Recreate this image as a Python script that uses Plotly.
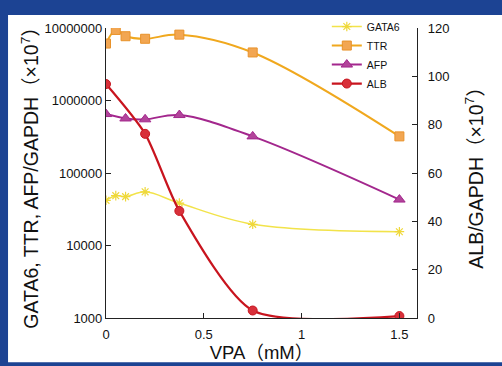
import plotly.graph_objects as go

# Data
gata6_x = [0, 0.05, 0.1, 0.2, 0.375, 0.75, 1.5]
gata6_y = [42000, 48700, 47200, 55000, 38500, 19600, 15500]

ttr_x = [0, 0.05, 0.1, 0.2, 0.375, 0.75, 1.5]
ttr_y = [6.1e6, 9.4e6, 7.7e6, 7.1e6, 8.1e6, 4.6e6, 3.2e5]

afp_x = [0, 0.1, 0.2, 0.375, 0.75, 1.5]
afp_y = [6.5e5, 5.65e5, 5.5e5, 6.3e5, 3.2e5, 4.3e4]

alb_x = [0, 0.2, 0.375, 0.75, 1.5]
alb_y = [96.8, 76.2, 44.3, 3.1, 0.8]

left_tickvals = [1000, 10000, 100000, 1000000, 10000000]
left_ticktext = ["1000", "10000", "100000", "1000000", "10000000"]
right_tickvals = [0, 20, 40, 60, 80, 100, 120]
x_tickvals = [0, 0.5, 1, 1.5]
x_ticktext = ["0", "0.5", "1", "1.5"]

FONT = "Liberation Sans, Arial, Noto Sans CJK JP, sans-serif"

fig = go.Figure()
fig.add_trace(go.Scatter(
    x=gata6_x, y=gata6_y, name="GATA6", mode="lines+markers",
    line=dict(color="#f2e34a", width=1.5, shape="spline"),
    marker=dict(symbol="asterisk-open", size=8, color="#efd83a", line=dict(width=1.2, color="#efd83a")),
))
fig.add_trace(go.Scatter(
    x=ttr_x, y=ttr_y, name="TTR", mode="lines+markers",
    line=dict(color="#f0a81e", width=2, shape="spline"),
    marker=dict(symbol="square", size=9, color="#f2a652", line=dict(width=1, color="#e8922a")),
))
fig.add_trace(go.Scatter(
    x=afp_x, y=afp_y, name="AFP", mode="lines+markers",
    line=dict(color="#a3278d", width=2, shape="spline"),
    marker=dict(symbol="triangle-up", size=10, color="#b2449a", line=dict(width=1, color="#a3278d")),
))
fig.add_trace(go.Scatter(
    x=alb_x, y=alb_y, name="ALB", mode="lines+markers", yaxis="y2",
    line=dict(color="#c8141e", width=2.2, shape="spline", smoothing=0.7),
    marker=dict(symbol="circle", size=9, color="#d8303a", line=dict(width=1, color="#c8141e")),
))

# white panel over the blue frame
fig.add_shape(type="rect", xref="paper", yref="paper",
              x0=-0.315, x1=1.3, y0=-0.153, y1=1.045,
              fillcolor="white", line=dict(width=0), layer="below")

fig.update_layout(
    width=502, height=366,
    margin=dict(l=106, r=85, t=20, b=48),
    paper_bgcolor="#1c4393",
    plot_bgcolor="rgba(0,0,0,0)",
    font=dict(family=FONT, size=13, color="#111111"),
    showlegend=True,
    legend=dict(x=0.71, y=1.055, xanchor="left", yanchor="top",
                bgcolor="rgba(0,0,0,0)", font=dict(size=10.5),
                itemwidth=30, tracegroupgap=0),
    xaxis=dict(range=[0, 1.59], tickvals=x_tickvals, ticktext=x_ticktext, automargin=False,
               showgrid=False, zeroline=False, showline=True, linecolor="#222",
               linewidth=1.2, ticks="inside", ticklen=5, tickcolor="#222",
               ticklabelstandoff=4,
               title=dict(text="VPA（mM）", font=dict(size=18.5), standoff=0)),
    yaxis=dict(type="log", range=[3, 7], tickvals=left_tickvals, ticktext=left_ticktext,
               automargin=False,
               showgrid=False, zeroline=False, showline=True, linecolor="#222",
               linewidth=1.2, ticks="inside", ticklen=5, tickcolor="#222",
               title=dict(text="GATA6, TTR, AFP/GAPDH（×10<sup>7</sup>）",
                          font=dict(size=19.5), standoff=0)),
    yaxis2=dict(overlaying="y", side="right", range=[0, 120], tickvals=right_tickvals,
                automargin=False,
                showgrid=False, zeroline=False, showline=True, linecolor="#222",
                linewidth=1.2, ticks="inside", ticklen=5, tickcolor="#222",
                ticklabelstandoff=7,
                title=dict(text="ALB/GAPDH（×10<sup>7</sup>）", font=dict(size=19.5), standoff=20)),
)

fig.write_html("out.html", config={"displayModeBar": False},
               post_script="document.body.style.margin='0';document.body.style.overflow='hidden';")
